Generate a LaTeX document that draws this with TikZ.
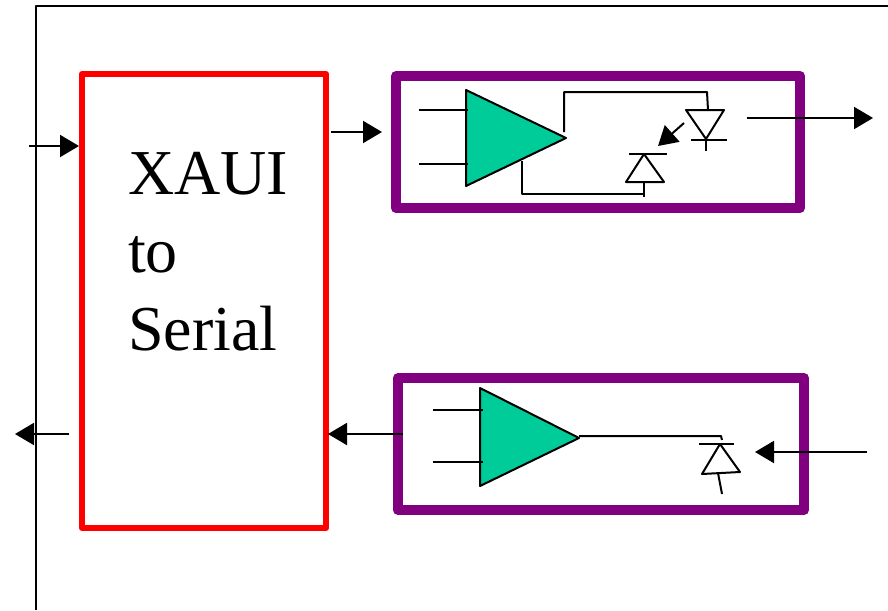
\documentclass[tikz,border=0pt]{standalone}
\usepackage{fontspec}
\setmainfont{Liberation Serif}
\usetikzlibrary{positioning,arrows.meta}
\definecolor{ampgreen}{HTML}{00CC99}
\definecolor{boxpurple}{HTML}{800080}

\begin{document}
\begin{tikzpicture}[x=1pt,y=-1pt,line join=round,
  wire/.style={line width=2pt},
  sig/.style={line width=2pt,-{Triangle[length=19pt,width=22pt]}},
  amp/.style={wire,fill=ampgreen},
  xauibox/.style={draw=red,line width=6pt,inner sep=0pt,outer sep=0pt,minimum width=244pt,minimum height=454pt},
  drvbox/.style={draw=boxpurple,line width=10pt,inner sep=0pt,outer sep=0pt,minimum height=132pt}]
\useasboundingbox (0,0) rectangle (888,610);
\draw[wire] (888,6) -- (36,6) -- (36,610);
% boxes
\node[xauibox] (xaui) at (204,301) {};
\node[drvbox,minimum width=404pt] (tx) at (598,142) {};
\node[drvbox,minimum width=406pt] (rx) at (601,444) {};
\node[anchor=north west,inner sep=0pt,align=left,font=\fontsize{64}{78}\selectfont] (xauitxt) at (128,152) {XAUI\\to\\Serial};
% free ends of the arrows
\coordinate (inL) at (29,146);
\coordinate (inLtip) at (79,146);
\coordinate (txA) at (331,132);
\coordinate (txAtip) at (382,132);
\coordinate (txO) at (747,118);
\coordinate (txOtip) at (873,118);
\coordinate (rxA) at (403,434);
\coordinate (rxAtip) at (328,434);
\coordinate (outL) at (69,434);
\coordinate (outLtip) at (15,434);
\coordinate (rxI) at (867,452);
\coordinate (rxItip) at (755,452);
\draw[sig] (inL) -- (inLtip);
\draw[sig] (txA) -- (txAtip);
\draw[sig] (txO) -- (txOtip);
\draw[sig] (rxA) -- (rxAtip);
\draw[sig] (outL) -- (outLtip);
\draw[sig] (rxI) -- (rxItip);
% upper amplifier
\draw[amp] (466,90) -- (466,186) -- (566,138) -- cycle;
\draw[wire] (419,110) -- (468,110);
\draw[wire] (419,164) -- (468,164);
\draw[wire] (564,132) -- (564,92) -- (707,92) -- (708,110);
\draw[wire] (522,161) -- (522,194) -- (644,194);
% laser
\draw[wire] (686,110) -- (724,110) -- (706,139) -- cycle;
\draw[wire] (691,140) -- (727,140);
\draw[wire] (706,139) -- (706,151);
\draw[sig] (684,123) -- (658,146);
% monitor diode
\draw[wire] (644,154) -- (626,182) -- (664,182) -- cycle;
\draw[wire] (629,154) -- (667,154);
\draw[wire] (644,182) -- (644,197);
% lower amplifier
\draw[amp] (480,388) -- (480,486) -- (579,438) -- cycle;
\draw[wire] (433,410) -- (483,410);
\draw[wire] (433,462) -- (483,462);
\draw[wire] (579,436) -- (721,436) -- (722,440);
% receive diode
\draw[wire] (720,444) -- (702,474) -- (740,472) -- cycle;
\draw[wire] (699,444) -- (734,444);
\draw[wire] (718,473) -- (722,494);
\end{tikzpicture}
\end{document}
